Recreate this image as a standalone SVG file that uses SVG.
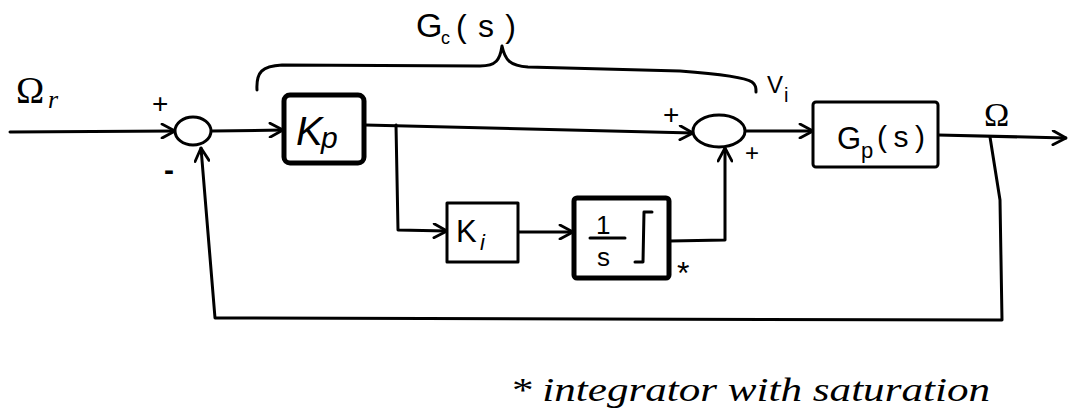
<svg xmlns="http://www.w3.org/2000/svg" width="1071" height="417" viewBox="0 0 1071 417">
<style>
.ln{fill:none;stroke:#000;stroke-width:3;stroke-linecap:round;stroke-linejoin:round}
.box{fill:#fff;stroke:#000;stroke-width:3;stroke-linejoin:round}
.thick{stroke-width:5}
.sum{fill:#fff;stroke:#000;stroke-width:3}
.t{font-family:"Liberation Sans",Arial,sans-serif;fill:#000}
.sg{font-family:"Liberation Sans",Arial,sans-serif;fill:#000;font-weight:bold}
.m{font-family:"Liberation Serif","Times New Roman",serif;fill:#000}
</style>
<defs>
<marker id="ah" viewBox="0 0 16 16" refX="15" refY="8" markerWidth="16" markerHeight="16" markerUnits="userSpaceOnUse" orient="auto">
<path d="M2,1 L15,8 L2,15" fill="none" stroke="#000" stroke-width="2.8" stroke-linecap="round" stroke-linejoin="round"/>
</marker>
</defs>
<rect width="1071" height="417" fill="#fff"/>

<g id="connectors">
<path class="ln" d="M10,132 L175,131" marker-end="url(#ah)"/>
<path class="ln" d="M212,131 L283,130" marker-end="url(#ah)"/>
<path class="ln" d="M365,125 L693,133" marker-end="url(#ah)"/>
<path class="ln" d="M396,125 L398,230 L447,231" marker-end="url(#ah)"/>
<path class="ln" d="M518,232 L573,232" stroke-width="4.5" marker-end="url(#ah)"/>
<path class="ln" d="M670,241 L725,240 L725,148" marker-end="url(#ah)"/>
<path class="ln" d="M745,131 L813,131" marker-end="url(#ah)"/>
<path class="ln" d="M938,135 L1066,138" marker-end="url(#ah)"/>
<path class="ln" d="M990,137 L1000,200 L1002,320 L215,318 L201,148" marker-end="url(#ah)"/>
</g>

<g id="brace">
<path class="ln" d="M257,90 C256,72 262,66 282,65 L480,66 C496,66 500,60 502,46 C505,60 510,66 528,67 L680,71 C720,74 745,77 752,82 C756,85 756,88 756,92" stroke-width="2.5"/>
<text class="t" x="416" y="37" font-size="34">G</text>
<text class="t" x="441" y="44" font-size="18">c</text>
<text class="t" x="456" y="37" font-size="32" textLength="60" lengthAdjust="spacing">(s)</text>
</g>

<g id="input-label">
<text class="m" x="16" y="103" font-size="38">Ω</text>
<text class="m" x="48" y="108" font-size="26" font-style="italic">r</text>
</g>

<g id="sum1">
<ellipse class="sum" cx="193" cy="131" rx="18" ry="14"/>
<text class="t" x="152" y="113" font-size="28">+</text>
<text class="sg" x="164" y="180" font-size="30">-</text>
</g>

<g id="Kp">
<rect class="box thick" x="284" y="95" width="80" height="68" rx="6"/>
<text class="t" x="296" y="145" font-size="40" font-style="italic">K</text>
<text class="t" x="321" y="148" font-size="30" font-style="italic">p</text>
</g>

<g id="Ki">
<rect class="box" x="447" y="203" width="71" height="59"/>
<text class="t" x="456" y="242" font-size="31">K</text>
<text class="t" x="480" y="250" font-size="22" font-style="italic">i</text>
</g>

<g id="integrator">
<rect class="box thick" x="574" y="198" width="95" height="80" rx="3"/>
<text class="t" x="596" y="234" font-size="26">1</text>
<line class="ln" x1="590" y1="238" x2="625" y2="238"/>
<text class="t" x="597" y="266" font-size="26">s</text>
<path class="ln" d="M652,212 L644,212 L643,262 L635,262"/>
<text class="t" x="677" y="284" font-size="32">*</text>
</g>

<g id="sum2">
<ellipse class="sum" cx="719" cy="131" rx="26" ry="16"/>
<text class="t" x="663" y="124" font-size="28">+</text>
<text class="t" x="745" y="161" font-size="24">+</text>
<text class="t" x="767" y="93" font-size="24">V</text>
<text class="t" x="784" y="102" font-size="20">i</text>
</g>

<g id="Gp">
<rect class="box" x="813" y="102" width="125" height="65" rx="3"/>
<text class="t" x="837" y="149" font-size="31">G</text>
<text class="t" x="861" y="158" font-size="22">p</text>
<text class="t" x="877" y="147" font-size="30" textLength="48" lengthAdjust="spacing">(s)</text>
</g>

<g id="output-label">
<text class="m" x="984" y="126" font-size="34">Ω</text>
</g>

<g id="footnote">
<text class="m" x="510" y="401" font-size="34" font-style="italic" textLength="480" lengthAdjust="spacingAndGlyphs">* integrator with saturation</text>
</g>
</svg>
